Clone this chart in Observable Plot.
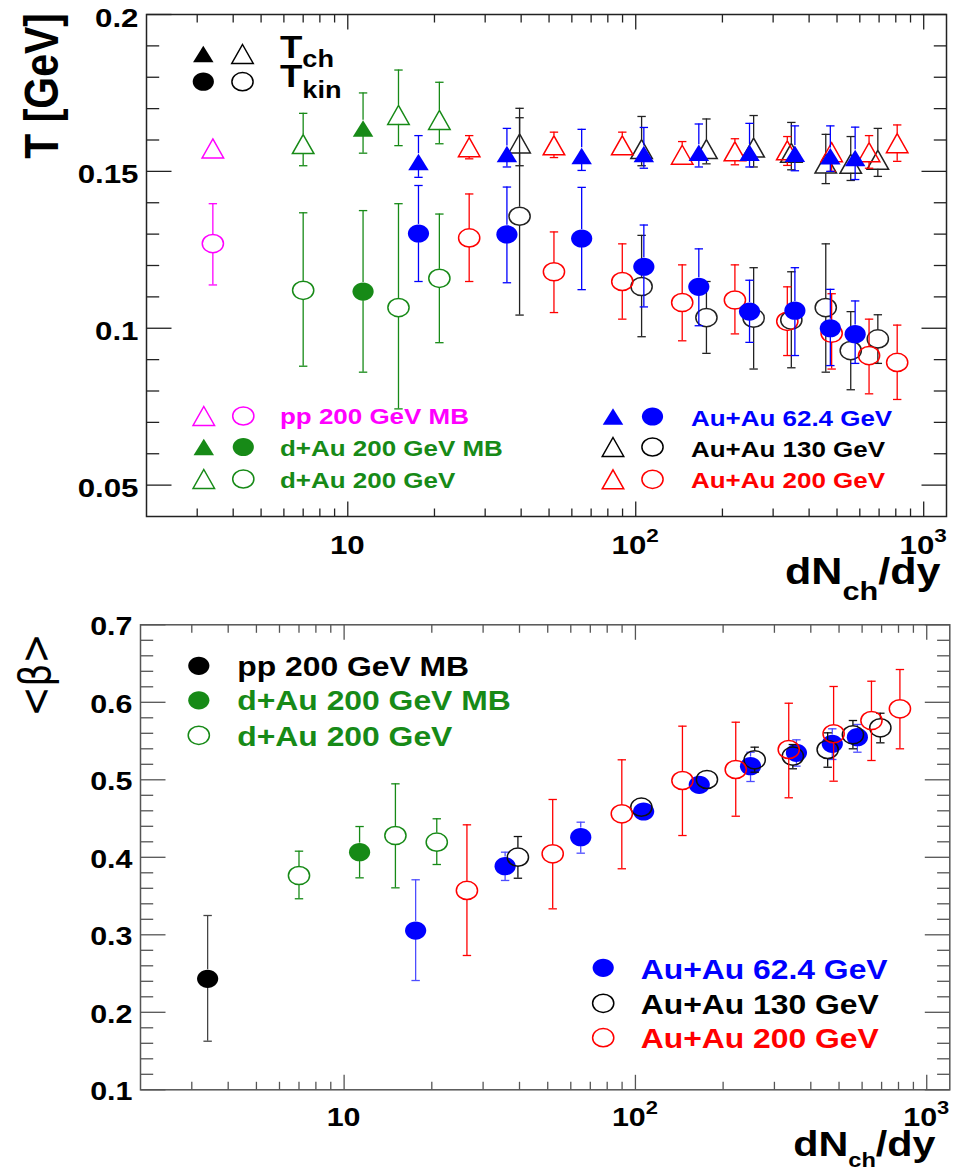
<!DOCTYPE html>
<html><head><meta charset="utf-8">
<script src="https://cdn.jsdelivr.net/npm/d3@7"></script>
<script src="https://cdn.jsdelivr.net/npm/@observablehq/plot@0.6"></script>
<style>
body{margin:0;background:#fff;}
#chart{position:relative;width:957px;height:1171px;overflow:hidden;background:#fff;}
#chart svg{display:block;}
</style></head><body><div id="chart"></div>
<script>
// ---------------- data (value, low end, high end) ----------------
const ppX = [3.4];
const ppTch = [[0.1573, 0.1538, 0.1608]];
const ppTkin = [[0.127, 0.1138, 0.1397]];
const ppBeta = [[0.2432, 0.1627, 0.3249]];

const dAuX = [7.0, 15.0, 20.8];
const dAuTch = [[0.1587, 0.1518, 0.1685], [0.168, 0.1582, 0.1823], [0.1664, 0.1588, 0.1784]];
const dAuTkin = [[0.1121, 0.0879, 0.1368], [0.1066, 0.0743, 0.1397], [0.1159, 0.0954, 0.1364]];
const dAuBeta = [[0.3765, 0.3465, 0.4079], [0.4281, 0.3606, 0.4948], [0.4195, 0.3907, 0.4497]];

const dAuMBX = [11.3];
const dAuMBTch = [[0.1637, 0.1558, 0.175]];
const dAuMBTkin = [[0.1117, 0.086, 0.1375]];
const dAuMBBeta = [[0.4066, 0.3735, 0.4397]];

const au62X = [17.6, 35.7, 64.9, 106.7, 165.6, 248.4, 357, 474, 578];
const au62Tch = [[0.153, 0.1481, 0.1614], [0.1555, 0.1514, 0.1637], [0.1549, 0.1503, 0.1634], [0.1555, 0.151, 0.164], [0.1559, 0.1514, 0.1651], [0.1559, 0.1514, 0.1653], [0.1556, 0.1502, 0.1645], [0.1548, 0.15, 0.1645], [0.1543, 0.1474, 0.1641]];
const au62Tkin = [[0.1302, 0.1149, 0.1455], [0.1299, 0.1145, 0.145], [0.1286, 0.1123, 0.1449], [0.1196, 0.1068, 0.1329], [0.1132, 0.1008, 0.1253], [0.1053, 0.0955, 0.1153], [0.1056, 0.0913, 0.1193], [0.1, 0.0881, 0.1124], [0.0981, 0.0888, 0.1087]];
const au62Beta = [[0.3055, 0.241, 0.371], [0.3885, 0.3701, 0.4066], [0.426, 0.4053, 0.4453], [0.4591, 0.455, 0.463], [0.4935, 0.49, 0.497], [0.5176, 0.4978, 0.5356], [0.5348, 0.5176, 0.5516], [0.5464, 0.5262, 0.5658], [0.555, 0.5356, 0.5714]];

const au130X = [39.5, 104.8, 176, 256.7, 347, 457, 558, 693];
const au130Tch = [[0.1589, 0.1518, 0.1701], [0.1571, 0.1518, 0.1675], [0.1571, 0.1524, 0.1667], [0.1576, 0.1514, 0.1678], [0.1559, 0.1505, 0.1656], [0.1525, 0.1461, 0.1618], [0.1524, 0.1471, 0.1611], [0.1537, 0.1484, 0.1637]];
const au130Tkin = [[0.1357, 0.1042, 0.1671], [0.1133, 0.0973, 0.1296], [0.1034, 0.092, 0.1149], [0.1032, 0.087, 0.1193], [0.1026, 0.0874, 0.118], [0.1066, 0.086, 0.1269], [0.0929, 0.0804, 0.1053], [0.0966, 0.0888, 0.1043]];
const au130Beta = [[0.4001, 0.373, 0.4268], [0.4647, 0.46, 0.469], [0.5004, 0.496, 0.505], [0.5258, 0.5098, 0.5421], [0.5305, 0.5142, 0.5455], [0.5391, 0.5162, 0.5606], [0.5581, 0.54, 0.5765], [0.5671, 0.5477, 0.5859]];

const au200X = [26.4, 52, 89.8, 145, 221, 336, 479, 646, 809];
const au200Tch = [[0.1577, 0.154, 0.1614], [0.1583, 0.1544, 0.1625], [0.1583, 0.1548, 0.1625], [0.1553, 0.1518, 0.1595], [0.1564, 0.1521, 0.1604], [0.1567, 0.1519, 0.1611], [0.1561, 0.15, 0.1595], [0.1561, 0.151, 0.1614], [0.159, 0.1532, 0.1648]];
const au200Tkin = [[0.1288, 0.1149, 0.1428], [0.118, 0.105, 0.1307], [0.1149, 0.1029, 0.1269], [0.1082, 0.096, 0.1202], [0.109, 0.0982, 0.1202], [0.1022, 0.0913, 0.1132], [0.0984, 0.087, 0.111], [0.0913, 0.0791, 0.1029], [0.0891, 0.0773, 0.101]];
const au200Beta = [[0.3572, 0.2733, 0.4419], [0.4045, 0.3335, 0.4746], [0.4561, 0.3852, 0.5258], [0.4991, 0.4281, 0.5692], [0.5133, 0.453, 0.5743], [0.5391, 0.4768, 0.5988], [0.5594, 0.4982, 0.6204], [0.5765, 0.5249, 0.6272], [0.5916, 0.54, 0.6423]];

// ticks and labels
const xMajor = [10, 100, 1000];
const xMajorBase = ["10", "10", "10"];
const xMajorExp = ["", "2", "3"];
const xMinor = [3, 4, 5, 6, 7, 8, 9, 20, 30, 40, 50, 60, 70, 80, 90, 200, 300, 400, 500, 600, 700, 800, 900];
const tMajor = [0.05, 0.1, 0.15, 0.2];
const tMajorLabels = ["0.05", "0.1", "0.15", "0.2"];
const tMinor = [0.06, 0.07, 0.08, 0.09, 0.11, 0.12, 0.13, 0.14, 0.16, 0.17, 0.18, 0.19];
const bMajor = [0.1, 0.2, 0.3, 0.4, 0.5, 0.6, 0.7];
const bMajorLabels = ["0.1", "0.2", "0.3", "0.4", "0.5", "0.6", "0.7"];
const bMinor = [0.12, 0.14, 0.16, 0.18, 0.22, 0.24, 0.26, 0.28, 0.32, 0.34, 0.36, 0.38, 0.42, 0.44, 0.46, 0.48, 0.52, 0.54, 0.56, 0.58, 0.62, 0.64, 0.66, 0.68];

// legends
const topLegendLeftLabels = ["pp 200 GeV MB", "d+Au 200 GeV MB", "d+Au 200 GeV"];
const topLegendRightLabels = ["Au+Au 62.4 GeV", "Au+Au 130 GeV", "Au+Au 200 GeV"];
const botLegendLeftLabels = ["pp 200 GeV MB", "d+Au 200 GeV MB", "d+Au 200 GeV"];
const botLegendRightLabels = ["Au+Au 62.4 GeV", "Au+Au 130 GeV", "Au+Au 200 GeV"];

// ---------------- styling ----------------
const MAG = "#ff00ff", GRN = "#178a17", BLU = "#0000ff", RED = "#ff0000", BLK = "#000000";
const FONT = "'Liberation Sans', Arial, Helvetica, sans-serif";
const SX = 1.18;
const NS = "http://www.w3.org/2000/svg";

const ellipse = (rx, ry) => ({draw(c) {
  const k = 0.5522847;
  c.moveTo(rx, 0);
  c.bezierCurveTo(rx, ry * k, rx * k, ry, 0, ry);
  c.bezierCurveTo(-rx * k, ry, -rx, ry * k, -rx, 0);
  c.bezierCurveTo(-rx, -ry * k, -rx * k, -ry, 0, -ry);
  c.bezierCurveTo(rx * k, -ry, rx, -ry * k, rx, 0);
  c.closePath();
}});
const tri = (w, h) => ({draw(c) { c.moveTo(0, -h / 2); c.lineTo(w / 2, h / 2); c.lineTo(-w / 2, h / 2); c.closePath(); }});
const seg = (x1, y1, x2, y2) => ({draw(c) { c.moveTo(x1, y1); c.lineTo(x2, y2); }});
const ELL = ellipse(10.6, 9.1);
const TRIF = tri(20.5, 16.5);
const TRIO = tri(21.5, 19);
const CAP = seg(-4.2, 0, 4.2, 0);

function el(name) { return document.createElementNS(NS, name); }
function makeText(parts, o) {
  const t = el("text");
  t.setAttribute("transform", `translate(${o.x},${o.y}) scale(${SX},1)` + (o.rotate ? " rotate(-90)" : ""));
  t.setAttribute("text-anchor", o.anchor || "start");
  t.setAttribute("font-family", o.family || FONT);
  t.setAttribute("font-weight", o.weight || "bold");
  t.setAttribute("font-size", o.size);
  t.setAttribute("fill", o.color || BLK);
  let shift = 0;
  for (const p of parts) {
    const s = el("tspan");
    const q = typeof p === "string" ? {t: p, dy: 0} : p;
    if (q.dy - shift) s.setAttribute("dy", q.dy - shift);
    shift = q.dy;
    if (q.size) s.setAttribute("font-size", q.size);
    if (q.dx) s.setAttribute("dx", q.dx);
    if (q.weight) s.setAttribute("font-weight", q.weight);
    s.textContent = q.t;
    t.appendChild(s);
  }
  return t;
}
function symPath(sym, x, y, color, filled) {
  const p = d3.path(); sym.draw(p, 0);
  const e = el("path");
  e.setAttribute("d", p.toString());
  e.setAttribute("transform", `translate(${x},${y})`);
  e.setAttribute("fill", filled ? color : "none");
  e.setAttribute("stroke", filled ? "none" : color);
  e.setAttribute("stroke-width", 1.5);
  return e;
}

function series(x, vals, o) {
  const data = x.map((xi, i) => ({x: xi, v: vals[i][0], lo: vals[i][1], hi: vals[i][2]}));
  const up = data.filter(d => (d.hi - d.v) * o.ppu > o.gap + 2);
  const dn = data.filter(d => (d.v - d.lo) * o.ppu > o.gap + 2);
  const ec = o.ecolor || o.color;
  return [
    Plot.ruleX(up, {x: "x", y1: "hi", y2: "v", insetBottom: o.gap, stroke: ec, strokeWidth: 1.3}),
    Plot.ruleX(dn, {x: "x", y1: "v", y2: "lo", insetTop: o.gap, stroke: ec, strokeWidth: 1.3}),
    Plot.dot(up, {x: "x", y: "hi", symbol: CAP, fill: "none", stroke: ec, strokeWidth: 1.3}),
    Plot.dot(dn, {x: "x", y: "lo", symbol: CAP, fill: "none", stroke: ec, strokeWidth: 1.3}),
    Plot.dot(data, {x: "x", y: "v", symbol: o.sym, fill: o.filled ? o.color : "none", stroke: o.filled ? "none" : o.color, strokeWidth: 1.5})
  ];
}

function tickMarks(yMaj, yMin, color) {
  const s = {fill: "none", stroke: color, strokeWidth: 1.3};
  return [
    Plot.dot(xMajor, {x: d => d, frameAnchor: "bottom", symbol: seg(0, 0, 0, -15), ...s}),
    Plot.dot(xMinor, {x: d => d, frameAnchor: "bottom", symbol: seg(0, 0, 0, -8), ...s}),
    Plot.dot(xMajor, {x: d => d, frameAnchor: "top", symbol: seg(0, 0, 0, 15), ...s}),
    Plot.dot(xMinor, {x: d => d, frameAnchor: "top", symbol: seg(0, 0, 0, 8), ...s}),
    Plot.dot(yMaj, {y: d => d, frameAnchor: "left", symbol: seg(0, 0, 25, 0), ...s}),
    Plot.dot(yMin, {y: d => d, frameAnchor: "left", symbol: seg(0, 0, 12.7, 0), ...s}),
    Plot.dot(yMaj, {y: d => d, frameAnchor: "right", symbol: seg(0, 0, -25, 0), ...s}),
    Plot.dot(yMin, {y: d => d, frameAnchor: "right", symbol: seg(0, 0, -12.7, 0), ...s})
  ];
}

function tickLabels(yVals, yLabels, o) {
  return (index, scales, values, dim) => {
    const g = el("g");
    const left = dim.marginLeft, bottom = dim.height - dim.marginBottom;
    yVals.forEach((v, i) => g.appendChild(makeText([yLabels[i]], {x: left - 7.5, y: scales.y(v) + o.ydy, anchor: "end", size: o.size})));
    xMajor.forEach((v, i) => {
      const parts = [xMajorBase[i]];
      if (xMajorExp[i]) parts.push({t: xMajorExp[i], dy: -12.3, size: o.size * 0.72});
      g.appendChild(makeText(parts, {x: scales.x(v), y: bottom + o.xdy, anchor: "middle", size: o.size}));
    });
    return g;
  };
}

function legend(rows, oy) {
  return () => {
    const g = el("g");
    for (const r of rows) {
      for (const m of r.marks) g.appendChild(symPath(m.sym, m.x, r.y - oy, r.color, m.filled));
      g.appendChild(makeText(r.parts, {x: r.tx, y: r.ty - oy, size: r.size, color: r.color}));
    }
    return g;
  };
}
function titles(items, oy) {
  return () => {
    const g = el("g");
    for (const it of items) g.appendChild(makeText(it.parts, {...it, y: it.y - oy}));
    return g;
  };
}

// ---------------- top plot: temperatures ----------------
const TPPU = 3137;
const topPlot = Plot.plot({
  width: 957, height: 600,
  marginLeft: 146, marginRight: 11, marginTop: 14, marginBottom: 84,
  x: {type: "log", domain: [2, 1200], axis: null},
  y: {domain: [0.04, 0.2], axis: null},
  style: {fontFamily: FONT, background: "white", overflow: "visible"},
  marks: [
    ...series(ppX, ppTch, {sym: TRIO, gap: 9.5, color: MAG, ppu: TPPU}),
    ...series(ppX, ppTkin, {sym: ELL, gap: 9.1, color: MAG, ppu: TPPU}),
    ...series(dAuX, dAuTch, {sym: TRIO, gap: 9.5, color: GRN, ppu: TPPU}),
    ...series(dAuX, dAuTkin, {sym: ELL, gap: 9.1, color: GRN, ppu: TPPU}),
    ...series(dAuMBX, dAuMBTch, {sym: TRIF, gap: 8.2, color: GRN, filled: true, ppu: TPPU}),
    ...series(dAuMBX, dAuMBTkin, {sym: ELL, gap: 9.1, color: GRN, filled: true, ppu: TPPU}),
    ...series(au130X, au130Tch, {sym: TRIO, gap: 9.5, color: "#222", ppu: TPPU}),
    ...series(au130X, au130Tkin, {sym: ELL, gap: 9.1, color: "#222", ppu: TPPU}),
    ...series(au200X, au200Tch, {sym: TRIO, gap: 9.5, color: RED, ppu: TPPU}),
    ...series(au200X, au200Tkin, {sym: ELL, gap: 9.1, color: RED, ppu: TPPU}),
    ...series(au62X, au62Tch, {sym: TRIF, gap: 8.2, color: BLU, filled: true, ppu: TPPU}),
    ...series(au62X, au62Tkin, {sym: ELL, gap: 9.1, color: BLU, filled: true, ppu: TPPU}),
    ...tickMarks(tMajor, tMinor, "#222"),
    Plot.frame({stroke: "#222", strokeWidth: 1.5}),
    tickLabels(tMajor, tMajorLabels, {size: 26.5, ydy: 12.5, xdy: 38}),
    legend([
      {y: 54, color: BLK, marks: [{x: 203.3, sym: TRIF, filled: true}, {x: 242.5, sym: TRIO}], tx: 280, ty: 58.3, size: 31, parts: ["T", {t: "ch", size: 23, dy: 8.4}]},
      {y: 81.7, color: BLK, marks: [{x: 203.3, sym: ELL, filled: true}, {x: 242.5, sym: ELL}], tx: 280, ty: 86.7, size: 31, parts: ["T", {t: "kin", size: 23, dy: 11}]},
      {y: 416, color: MAG, marks: [{x: 203.8, sym: TRIO}, {x: 243.3, sym: ELL}], tx: 280, ty: 424, size: 22, parts: [topLegendLeftLabels[0]]},
      {y: 447, color: GRN, marks: [{x: 203.8, sym: TRIF, filled: true}, {x: 243.3, sym: ELL, filled: true}], tx: 280, ty: 455.5, size: 22, parts: [topLegendLeftLabels[1]]},
      {y: 479, color: GRN, marks: [{x: 203.8, sym: TRIO}, {x: 243.3, sym: ELL}], tx: 280, ty: 487.5, size: 22, parts: [topLegendLeftLabels[2]]},
      {y: 416.5, color: BLU, marks: [{x: 613, sym: TRIF, filled: true}, {x: 652.5, sym: ELL, filled: true}], tx: 691, ty: 425.5, size: 22, parts: [topLegendRightLabels[0]]},
      {y: 447, color: BLK, marks: [{x: 613, sym: TRIO}, {x: 652.5, sym: ELL}], tx: 691, ty: 456.5, size: 22, parts: [topLegendRightLabels[1]]},
      {y: 479.3, color: RED, marks: [{x: 613, sym: TRIO}, {x: 652.5, sym: ELL}], tx: 691, ty: 488.3, size: 22, parts: [topLegendRightLabels[2]]}
    ], 0),
    titles([
      {x: 58.3, y: 13, rotate: true, anchor: "end", size: 41, parts: ["T [GeV]"]},
      {x: 785, y: 584, size: 36.5, parts: ["dN", {t: "ch", size: 26, dy: 15.5}, {t: "/dy", dy: 0}]}
    ], 0)
  ]
});

// ---------------- bottom plot: <beta> ----------------
const BPPU = 775.5;
const OY = 600;
const botPlot = Plot.plot({
  width: 957, height: 571,
  marginLeft: 140, marginRight: 7.7, marginTop: 24.3, marginBottom: 81.7,
  x: {type: "log", domain: [2, 1200], axis: null},
  y: {domain: [0.1, 0.7], axis: null},
  style: {fontFamily: FONT, background: "white", overflow: "visible"},
  marks: [
    ...series(ppX, ppBeta, {sym: ELL, gap: 9.1, color: BLK, ecolor: "#444", filled: true, ppu: BPPU}),
    ...series(dAuX, dAuBeta, {sym: ELL, gap: 9.1, color: GRN, ppu: BPPU}),
    ...series(dAuMBX, dAuMBBeta, {sym: ELL, gap: 9.1, color: GRN, filled: true, ppu: BPPU}),
    ...series(au62X, au62Beta, {sym: ELL, gap: 9.1, color: BLU, ecolor: "#4d4dff", filled: true, ppu: BPPU}),
    ...series(au130X, au130Beta, {sym: ELL, gap: 9.1, color: "#111", ppu: BPPU}),
    ...series(au200X, au200Beta, {sym: ELL, gap: 9.1, color: RED, ppu: BPPU}),
    ...tickMarks(bMajor, bMinor, "#555"),
    Plot.frame({stroke: "#555", strokeWidth: 1.5}),
    tickLabels(bMajor, bMajorLabels, {size: 25.8, ydy: 11, xdy: 36.7}),
    legend([
      {y: 665.8, color: BLK, marks: [{x: 198.8, sym: ELL, filled: true}], tx: 237.3, ty: 675.5, size: 27, parts: [botLegendLeftLabels[0]]},
      {y: 700.3, color: GRN, marks: [{x: 198.8, sym: ELL, filled: true}], tx: 237.3, ty: 710, size: 27, parts: [botLegendLeftLabels[1]]},
      {y: 735.3, color: GRN, marks: [{x: 198.8, sym: ELL}], tx: 237.3, ty: 745.5, size: 27, parts: [botLegendLeftLabels[2]]},
      {y: 967.8, color: BLU, marks: [{x: 603.2, sym: ELL, filled: true}], tx: 640.7, ty: 979, size: 27, parts: [botLegendRightLabels[0]]},
      {y: 1003.3, color: BLK, marks: [{x: 603.2, sym: ELL}], tx: 640.7, ty: 1013.5, size: 27, parts: [botLegendRightLabels[1]]},
      {y: 1037.7, color: RED, marks: [{x: 603.2, sym: ELL}], tx: 640.7, ty: 1048.3, size: 27, parts: [botLegendRightLabels[2]]}
    ], OY),
    titles([
      {x: 50, y: 633.3, rotate: true, anchor: "end", size: 36, weight: "normal", family: "'DejaVu Sans', sans-serif", parts: ["<β>"]},
      {x: 793.3, y: 1156, size: 35, parts: ["dN", {t: "ch", size: 20, dy: 10.7}, {t: "/dy", dy: 0}]}
    ], OY)
  ]
});

const chart = document.getElementById("chart");
chart.appendChild(topPlot);
chart.appendChild(botPlot);
</script></body></html>
